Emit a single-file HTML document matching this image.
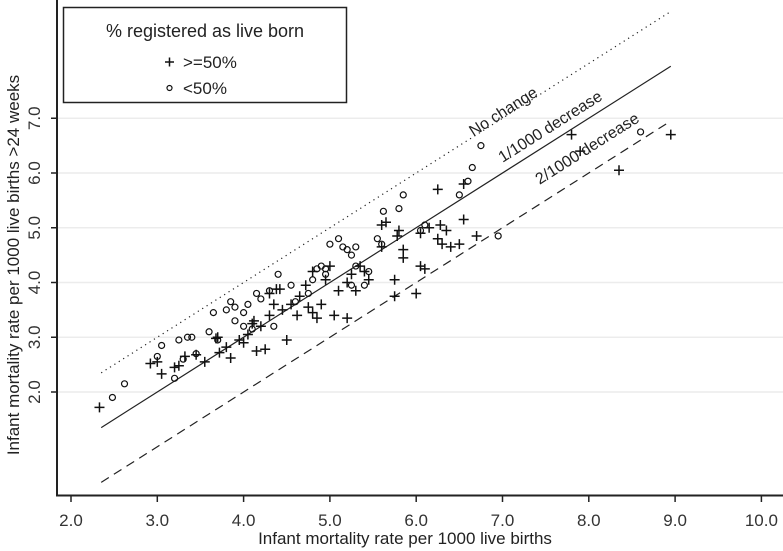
<!DOCTYPE html>
<html><head><meta charset="utf-8"><style>
html,body{margin:0;padding:0;background:#fff;}
svg{display:block;font-family:"Liberation Sans",sans-serif;}
</style></head><body>
<svg id="chart" width="783" height="551" viewBox="0 0 783 551">
<g id="grid"></g>
<g id="lines"></g>
<g id="pts"></g>
<g id="axes"></g>
<g>
<rect x="63.5" y="7.5" width="283" height="95" fill="#fff" stroke="#222" stroke-width="1.5"/>
<text x="205" y="37" font-size="18" text-anchor="middle" fill="#222">% registered as live born</text>
<path d="M165 62h9M169.5 57.5v9" stroke="#111" stroke-width="1.5"/>
<text x="183" y="68" font-size="17" fill="#222">&gt;=50%</text>
<circle cx="169.5" cy="88" r="2.5" fill="none" stroke="#111" stroke-width="1.2"/>
<text x="183" y="94" font-size="17" fill="#222">&lt;50%</text>
</g>
<text transform="translate(19,265) rotate(-90)" font-size="17" text-anchor="middle" fill="#222">Infant mortality rate per 1000 live births &gt;24 weeks</text>
<text x="405" y="544" font-size="17" text-anchor="middle" fill="#222">Infant mortality rate per 1000 live births</text>
<text transform="translate(506,116) rotate(-32.4)" font-size="16" text-anchor="middle" fill="#222">No change</text>
<text transform="translate(553,131) rotate(-32.4)" font-size="16" text-anchor="middle" fill="#222">1/1000 decrease</text>
<text transform="translate(590,153) rotate(-32.4)" font-size="16" text-anchor="middle" fill="#222">2/1000 decrease</text>
</svg>
<script>
const xTicks=[2,3,4,5,6,7,8,9,10];
const xTickLabels=["2.0","3.0","4.0","5.0","6.0","7.0","8.0","9.0","10.0"];
const yTicks=[2,3,4,5,6,7];
const yTickLabels=["2.0","3.0","4.0","5.0","6.0","7.0"];
const lineOffsets=[0,-1,-2];
const lineRange=[2.35,8.95];
const plusX=[2.33,2.92,3.05,3.0,3.2,3.25,3.32,3.45,3.55,3.68,3.7,3.72,3.85,3.8,3.95,4.0,4.05,4.1,4.12,4.15,4.2,4.25,4.3,4.35,4.3,4.38,4.42,4.5,4.45,4.55,4.62,4.65,4.75,4.8,4.85,4.72,4.9,4.8,5.0,4.95,5.05,5.1,5.2,5.25,5.3,5.35,5.2,5.45,5.4,5.6,5.65,5.78,5.85,5.75,5.75,5.85,6.0,6.05,6.1,6.05,6.15,6.25,6.25,6.28,6.3,6.35,6.4,6.5,6.55,6.55,6.7,7.8,7.9,8.35,8.95,5.8,5.6];
const plusY=[1.72,2.52,2.33,2.55,2.45,2.48,2.65,2.68,2.55,2.98,3.0,2.72,2.62,2.82,2.95,2.9,3.05,3.25,3.3,2.75,3.2,2.78,3.4,3.6,3.8,3.88,3.88,2.95,3.5,3.6,3.4,3.75,3.55,3.45,3.35,3.95,3.6,4.2,4.3,4.05,3.4,3.85,4.0,4.15,3.85,4.3,3.35,4.05,4.2,4.65,5.1,4.85,4.6,4.05,3.75,4.45,3.8,4.9,4.25,4.3,5.0,5.7,4.8,5.05,4.7,4.95,4.65,4.7,5.8,5.15,4.85,6.7,6.4,6.05,6.7,4.95,5.05];
const circX=[2.48,2.62,3.0,3.05,3.2,3.25,3.3,3.35,3.4,3.45,3.6,3.65,3.7,3.8,3.85,3.9,3.9,4.0,4.05,4.1,4.15,4.2,4.3,4.35,4.4,4.55,4.6,4.75,4.8,4.85,4.9,4.95,5.0,5.1,5.15,5.2,5.25,5.3,5.25,5.3,5.4,5.45,5.55,5.6,5.62,5.8,5.85,6.05,6.1,6.5,6.6,6.65,6.75,6.95,8.6,4.0,4.95];
const circY=[1.9,2.15,2.65,2.85,2.25,2.95,2.6,3.0,3.0,2.7,3.1,3.45,2.95,3.5,3.65,3.55,3.3,3.2,3.6,3.15,3.8,3.7,3.85,3.2,4.15,3.95,3.65,3.8,4.05,4.25,4.3,4.25,4.7,4.8,4.65,4.6,4.5,4.65,3.95,4.3,3.95,4.2,4.8,4.7,5.3,5.35,5.6,4.95,5.05,5.6,5.85,6.1,6.5,4.85,6.75,3.45,4.15];

const NS="http://www.w3.org/2000/svg";
const X=v=>71+(v-2)*86.3;
const Y=v=>392-(v-2)*54.75;
function mk(tag,attrs,parent){const e=document.createElementNS(NS,tag);for(const k in attrs)e.setAttribute(k,attrs[k]);document.getElementById(parent).appendChild(e);return e;}

yTicks.forEach((t,i)=>{
  const g=mk('line',{x1:58,x2:783,y1:Y(t),y2:Y(t),stroke:'#ececec','stroke-width':1.5},'grid');
  
  
  const tk=mk('line',{x1:51,x2:57,y1:Y(t),y2:Y(t),stroke:'#222','stroke-width':1.5},'axes');
  
  
  const tl=mk('text',{transform:`translate(40,${Y(t)}) rotate(-90)`,'font-size':17,'text-anchor':'middle',fill:'#333'},'axes');
  tl.textContent=yTickLabels[i];
  
  
});
xTicks.forEach((t,i)=>{
  const tk=mk('line',{x1:X(t),x2:X(t),y1:495,y2:502,stroke:'#222','stroke-width':1.5},'axes');
  
  
  const tl=mk('text',{x:X(t),y:526,'font-size':17,'text-anchor':'middle',fill:'#333'},'axes');
  tl.textContent=xTickLabels[i];
  
  
});
const ax=mk('path',{d:'M57 0V495.5H783',fill:'none',stroke:'#222','stroke-width':2},'axes');



const dashes=['1.2 4','', '9 6'];
const lnames=['line-no-change','line-1-1000-decrease','line-2-1000-decrease'];
lineOffsets.forEach((o,i)=>{
  const l=mk('line',{x1:X(lineRange[0]),y1:Y(lineRange[0]+o),x2:X(lineRange[1]),y2:Y(lineRange[1]+o),stroke:'#222','stroke-width':1.2},'lines');
  if(dashes[i])l.setAttribute('stroke-dasharray',dashes[i]);
  
  
});
plusX.forEach((v,i)=>{
  const x=X(v),y=Y(plusY[i]);
  const p=mk('path',{d:`M${x-5} ${y}h10M${x} ${y-5}v10`,stroke:'#111','stroke-width':1.5},'pts');
  
  
});
circX.forEach((v,i)=>{
  const c=mk('circle',{cx:X(v),cy:Y(circY[i]),r:3,fill:'none',stroke:'#111','stroke-width':1.2},'pts');
  
  
});
</script>
</body></html>
